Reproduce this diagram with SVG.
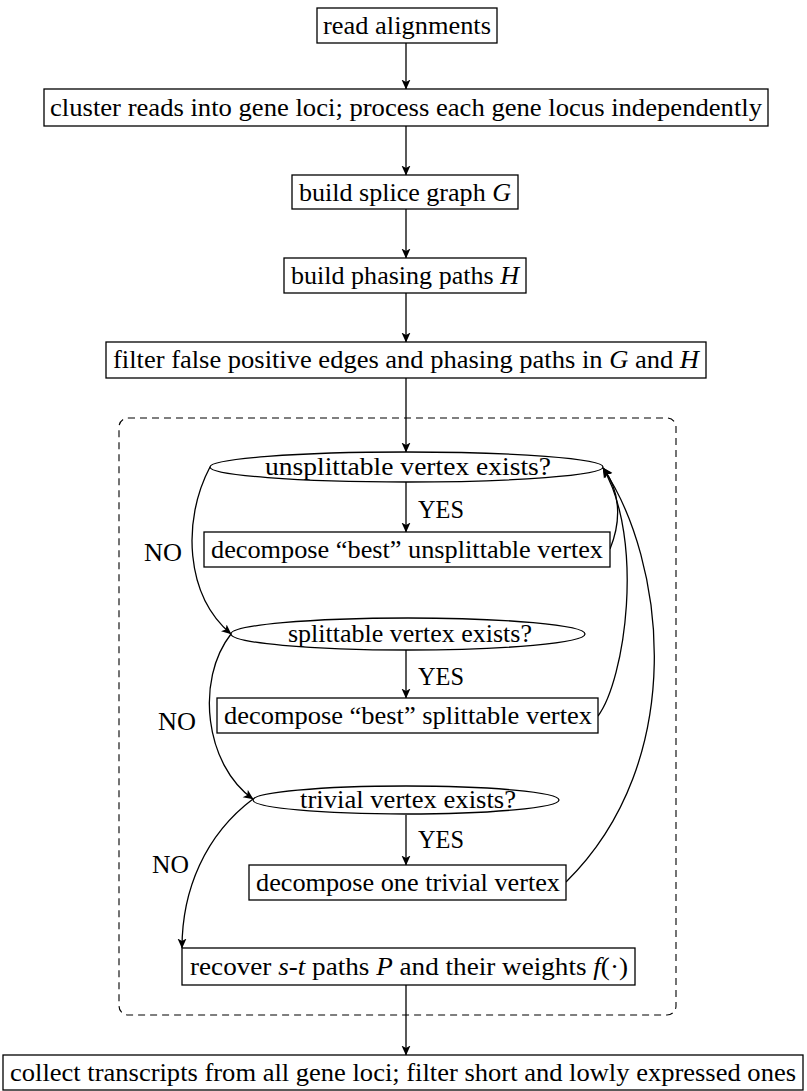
<svg xmlns="http://www.w3.org/2000/svg" width="807" height="1091" viewBox="0 0 807 1091">
<style>
.box{fill:#fff;stroke:#000;stroke-width:1.3}
.t{font-family:"Liberation Serif","Times New Roman",serif;font-size:26px;fill:#000}
.c{text-anchor:middle}
.i{font-style:italic}
.e{fill:none;stroke:#000;stroke-width:1.3}
.dash{fill:none;stroke:#000;stroke-width:1.1;stroke-dasharray:7,5}
</style>
<defs>
<marker id="ah" viewBox="0 0 10 10" refX="9.5" refY="5" markerWidth="10" markerHeight="10" markerUnits="userSpaceOnUse" orient="auto">
<path d="M0,0.5 L10,5 L0,9.5 L2.5,5 Z" fill="#000"/>
</marker>
</defs>
<rect class="dash" x="119" y="418" width="557" height="597" rx="9"/>
<g id="connectors" class="e" marker-end="url(#ah)">
<path d="M406,43 V89"/>
<path d="M406,126 V175"/>
<path d="M406,209 V258"/>
<path d="M406,293 V342"/>
<path d="M406,378 V452"/>
<path d="M406,482 V532"/>
<path d="M406,650 V698"/>
<path d="M406,815 V865"/>
<path d="M406,985 V1055"/>
<path d="M210,467 C182,520 185,595 231,634"/>
<path d="M231,634 C195,680 205,765 253,799"/>
<path d="M253,799 C205,835 182,890 182,948"/>
<path d="M598,716 C625,680 645,540 603,468"/>
<path d="M610,549 C622,520 620,490 603,468"/>
<path d="M566,882 C690,760 665,560 603,468"/>
</g>
<g id="n1"><rect class="box" x="317" y="8" width="180" height="35"/><text class="t c" x="407" y="34" textLength="168" lengthAdjust="spacingAndGlyphs">read alignments</text></g>
<g id="n2"><rect class="box" x="44" y="89" width="724" height="37"/><text class="t c" x="406" y="116" textLength="712" lengthAdjust="spacingAndGlyphs">cluster reads into gene loci; process each gene locus independently</text></g>
<g id="n3"><rect class="box" x="292" y="175" width="226" height="34"/><text class="t c" x="405" y="201" textLength="212" lengthAdjust="spacingAndGlyphs">build splice graph <tspan class="i">G</tspan></text></g>
<g id="n4"><rect class="box" x="284" y="258" width="242" height="35"/><text class="t c" x="405" y="284" textLength="228" lengthAdjust="spacingAndGlyphs">build phasing paths <tspan class="i">H</tspan></text></g>
<g id="n5"><rect class="box" x="106" y="342" width="600" height="36"/><text class="t c" x="406" y="368" textLength="586" lengthAdjust="spacingAndGlyphs">filter false positive edges and phasing paths in <tspan class="i">G</tspan> and <tspan class="i">H</tspan></text></g>
<g id="n6"><ellipse class="box" cx="406.5" cy="467" rx="196.5" ry="15"/><text class="t c" x="408" y="475" textLength="286" lengthAdjust="spacingAndGlyphs">unsplittable vertex exists?</text></g>
<g id="n7"><rect class="box" x="204" y="532" width="406" height="35"/><text class="t c" x="407" y="558" textLength="392" lengthAdjust="spacingAndGlyphs">decompose “best” unsplittable vertex</text></g>
<g id="n8"><ellipse class="box" cx="408" cy="634" rx="177" ry="16"/><text class="t c" x="410" y="642" textLength="244" lengthAdjust="spacingAndGlyphs">splittable vertex exists?</text></g>
<g id="n9"><rect class="box" x="217" y="698" width="381" height="35"/><text class="t c" x="408" y="724" textLength="368" lengthAdjust="spacingAndGlyphs">decompose “best” splittable vertex</text></g>
<g id="n10"><ellipse class="box" cx="406" cy="800" rx="153" ry="14"/><text class="t c" x="408" y="808" textLength="216" lengthAdjust="spacingAndGlyphs">trivial vertex exists?</text></g>
<g id="n11"><rect class="box" x="249" y="865" width="317" height="35"/><text class="t c" x="408" y="891" textLength="304" lengthAdjust="spacingAndGlyphs">decompose one trivial vertex</text></g>
<g id="n12"><rect class="box" x="182" y="948" width="453" height="37"/><text class="t c" x="409" y="975" textLength="438" lengthAdjust="spacingAndGlyphs">recover <tspan class="i">s</tspan>-<tspan class="i">t</tspan> paths <tspan class="i">P</tspan> and their weights <tspan class="i">f</tspan>(·)</text></g>
<g id="n13"><rect class="box" x="3" y="1055" width="800" height="35"/><text class="t c" x="403" y="1081" textLength="786" lengthAdjust="spacingAndGlyphs">collect transcripts from all gene loci; filter short and lowly expressed ones</text></g>
<g id="labels">
<text class="t" x="418" y="518" textLength="46" lengthAdjust="spacingAndGlyphs">YES</text>
<text class="t" x="418" y="685" textLength="46" lengthAdjust="spacingAndGlyphs">YES</text>
<text class="t" x="418" y="848" textLength="46" lengthAdjust="spacingAndGlyphs">YES</text>
<text class="t" x="144" y="561" textLength="38" lengthAdjust="spacingAndGlyphs">NO</text>
<text class="t" x="158" y="730" textLength="38" lengthAdjust="spacingAndGlyphs">NO</text>
<text class="t" x="152" y="873" textLength="37" lengthAdjust="spacingAndGlyphs">NO</text>
</g>
</svg>
